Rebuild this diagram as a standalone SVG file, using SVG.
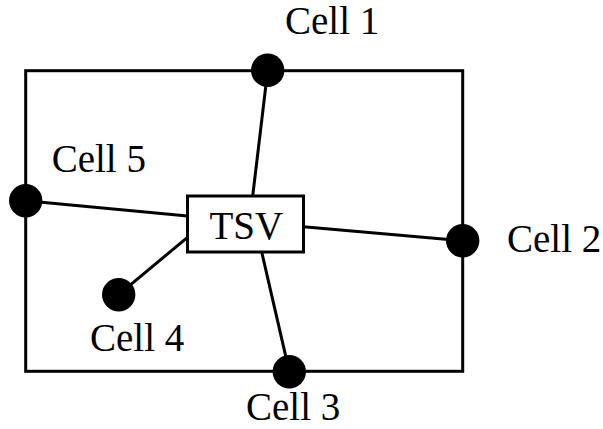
<svg xmlns="http://www.w3.org/2000/svg" width="603" height="429" viewBox="0 0 603 429">
<style>
.lbl{font-family:"Liberation Serif","Times New Roman",serif;font-size:39px;fill:#000}
.ln{stroke:#000;stroke-width:3;fill:none}
.dot{fill:#000}
</style>
<rect width="603" height="429" fill="#fff"/>
<rect id="boundary" x="25.7" y="70.7" width="437" height="300.6" class="ln"/>
<g id="connectors">
<line x1="267.7" y1="70.3" x2="252.7" y2="196" class="ln"/>
<line x1="25.7" y1="200.7" x2="187.5" y2="216" class="ln"/>
<line x1="303.5" y1="226.7" x2="462.7" y2="240.7" class="ln"/>
<line x1="187.5" y1="237.3" x2="118.7" y2="294.7" class="ln"/>
<line x1="261.7" y1="252" x2="289.3" y2="371.7" class="ln"/>
</g>
<g id="tsv">
<rect x="187.5" y="196" width="116" height="56" fill="#fff" class="ln"/>
<text x="246.3" y="239.3" text-anchor="middle" class="lbl">TSV</text>
</g>
<g id="cell1">
<circle cx="267.7" cy="70.3" r="16.7" class="dot"/>
<text x="285" y="34.3" class="lbl">Cell 1</text>
</g>
<g id="cell2">
<circle cx="462.7" cy="240.7" r="16.7" class="dot"/>
<text x="507" y="251.7" class="lbl">Cell 2</text>
</g>
<g id="cell3">
<circle cx="289.3" cy="371.7" r="16.7" class="dot"/>
<text x="246" y="420" class="lbl">Cell 3</text>
</g>
<g id="cell4">
<circle cx="118.7" cy="294.7" r="16.7" class="dot"/>
<text x="90" y="350.7" class="lbl">Cell 4</text>
</g>
<g id="cell5">
<circle cx="25.7" cy="200.7" r="16.7" class="dot"/>
<text x="51.7" y="171.7" class="lbl">Cell 5</text>
</g>
</svg>
